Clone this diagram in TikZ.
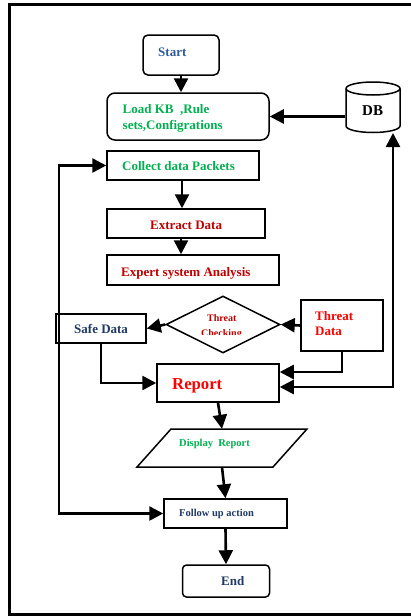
\documentclass[tikz,border=0pt]{standalone}
\usepackage{fontspec}
\setmainfont{Liberation Serif}
\usetikzlibrary{arrows.meta,shapes.geometric}
\definecolor{cblue}{HTML}{2E5C9A}
\definecolor{cgreen}{HTML}{00B050}
\definecolor{cdred}{HTML}{C00000}
\definecolor{cred}{HTML}{FF0000}
\definecolor{cnavy}{HTML}{1F3864}
\tikzset{
  box/.style={draw, line width=1.5pt, inner sep=0pt},
  ghost/.style={inner sep=0pt},
  txt/.style={inner sep=0pt, anchor=base west, font=\bfseries\fontsize{13}{15}\selectfont},
  small/.style={font=\bfseries\fontsize{10.5}{12}\selectfont},
  arr/.style={line width=2.6pt, -{Triangle[length=14pt,width=14pt]}},
  arrtwo/.style={line width=2.6pt, {Triangle[length=14pt,width=14pt]}-{Triangle[length=14pt,width=14pt]}}
}
\begin{document}
\begin{tikzpicture}[x=1pt,y=-1pt]
\useasboundingbox (0,0) rectangle (411,616);
% frame
\draw[line width=3pt] (412,4.5) -- (9.5,4.5) -- (9.5,614.5) -- (412,614.5);

% boxes
\node[box, rounded corners=5pt, minimum width=76pt, minimum height=40pt] (start) at (181,55) {};
\node[box, rounded corners=8pt, minimum width=162pt, minimum height=47pt] (load) at (188,116.5) {};
\node[box, minimum width=152pt, minimum height=29pt] (collect) at (183,165.5) {};
\node[box, minimum width=158pt, minimum height=29pt] (extract) at (186,223.5) {};
\node[box, minimum width=172pt, minimum height=30pt] (expert) at (193,270) {};
\node[box, diamond, minimum width=114pt, minimum height=57pt] (check) at (223,324.5) {};
\node[box, minimum width=90pt, minimum height=29pt] (safe) at (101,328.5) {};
\node[box, minimum width=82pt, minimum height=51pt] (threat) at (342,325.5) {};
\node[box, minimum width=122pt, minimum height=38pt] (report) at (218,383) {};
\node[ghost, minimum width=136pt, minimum height=38pt] (display) at (222,448) {};
\draw[line width=1.5pt, line join=miter] (137,467) -- (171,429) -- (307,429) -- (273,467) -- cycle;
\node[box, minimum width=123pt, minimum height=29pt] (follow) at (225.5,513.5) {};
\node[box, rounded corners=4pt, minimum width=87pt, minimum height=32pt] (end) at (226,581) {};

% DB cylinder
\node[ghost, minimum width=56pt, minimum height=50pt] (db) at (373,107) {};
\draw[line width=1.5pt] (346,88.5) arc[start angle=180, end angle=540, x radius=27pt, y radius=6.5pt];
\draw[line width=1.5pt] (346,88.5) -- (346,126) arc[start angle=180, end angle=360, x radius=27pt, y radius=6.5pt] -- (400,88.5);
\coordinate (dbbot) at (393,133);

% texts
\node[txt, text=cblue] (startt) at (158,56.7) {Start};
\node[txt, text=cgreen] (loadt1) at (122.5,113) {Load KB\ \ ,Rule};
\node[txt, text=cgreen] (loadt2) at (122.5,129) {sets,Configrations};
\node[txt, text=cgreen] (collectt) at (122,170.5) {Collect data Packets};
\node[txt, text=cdred] (extractt) at (150,229) {Extract Data};
\node[txt, text=cdred] (expertt) at (121,276) {Expert system Analysis};
\begin{scope}
\clip (180,300) rectangle (270,334.5);
\node[txt, font=\bfseries\fontsize{10}{12}\selectfont, text=cdred] (checkt1) at (207,321.7) {Threat};
\node[txt, font=\bfseries\fontsize{10}{12}\selectfont, text=cdred] (checkt2) at (201,336) {Checking};
\end{scope}
\node[txt, text=cnavy] (safet) at (74,333.3) {Safe Data};
\node[txt, text=cred] (threatt1) at (315,320) {Threat};
\node[txt, text=cred] (threatt2) at (315,335.7) {Data};
\node[txt, text=cred, font=\bfseries\fontsize{16.7}{19}\selectfont] (reportt) at (172,389) {Report};
\node[txt, small, text=cgreen] (displayt) at (179,446.7) {Display\ \ Report};
\node[txt, small, text=cnavy] (followt) at (179,516.7) {Follow up action};
\node[txt, text=cnavy] (endt) at (221,585.7) {End};
\node[txt, text=black, font=\bfseries\fontsize{15}{17}\selectfont] (dbt) at (362,115) {DB};

% connectors
\draw[arr] ([xshift=0pt]start.south) -- (start.south |- load.north);
\draw[arr] (db.west |- load.east) -- (load.east);
\draw[arr] ([xshift=-1pt]collect.south) -- ([xshift=-1pt]collect.south |- extract.north);
\draw[arr] ([xshift=-5pt]extract.south) -- ([xshift=-5pt]extract.south |- expert.north);
\draw[arr] (threat.west) -- (check.east);
\draw[arr] (check.west) -- (safe.east);
\draw[arr] (safe.south) |- (report.west);
\draw[arr] (threat.south) |- ([yshift=11pt]report.east);
\draw[arrtwo] ([yshift=-4pt]report.east) -| (dbbot);
\draw[arr] (report.south) -- (display.north);
\draw[arr] (display.south) -- (follow.north);
\draw[arr] (follow.south) -- (end.north);
\draw[arrtwo] (follow.west) -- (59,513.5) |- (collect.west);
\end{tikzpicture}
\end{document}
